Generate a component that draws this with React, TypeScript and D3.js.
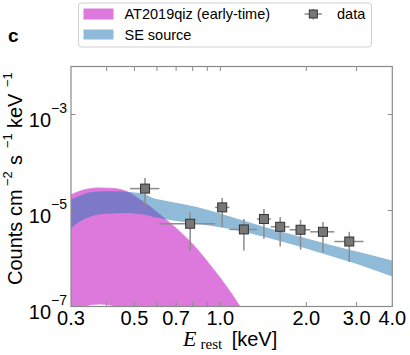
import React from 'react';
import * as d3 from 'd3';

// ---- tick definitions ----
const xTickValues = [0.3, 0.5, 0.7, 1.0, 2.0, 3.0, 4.0];
const xTickLabels = ['0.3', '0.5', '0.7', '1.0', '2.0', '3.0', '4.0'];
const xMinorTicks = [0.4, 0.5, 0.6, 0.7, 0.8, 0.9, 1.0, 2.0, 3.0];
const yTickExponents = [-7, -5, -3];

// ---- AT2019qiz (early-time) model band (log10 counts) ----
const qizEnergy = [0.28, 0.3, 0.336, 0.378, 0.427, 0.471, 0.524, 0.568, 0.615, 0.703, 0.804, 0.92, 1.052, 1.172, 1.25];
const qizUpperLog = [-4.73, -4.67, -4.565, -4.53, -4.544, -4.607, -4.774, -4.921, -5.088, -5.38, -5.715, -6.133, -6.586, -7.004, -7.3];
const qizLowerLog = [-7.35, -7.15, -6.99, -6.948, -6.99, -7.1, -7.3, -7.5, -7.7, -8.0, -8.3, -8.6, -9.0, -9.3, -9.5];

// ---- SE source model band (log10 counts) ----
const seEnergy = [0.3, 0.32, 0.352, 0.4, 0.47, 0.5, 0.545, 0.58, 0.63, 0.828, 1.081, 1.409, 1.854, 2.419, 3.156, 4.0];
const seUpperLog = [-4.775, -4.7, -4.62, -4.6, -4.61, -4.625, -4.66, -4.74, -4.785, -4.927, -5.123, -5.332, -5.527, -5.715, -5.888, -6.043];
const seLowerLog = [-5.366, -5.24, -5.123, -5.07, -5.052, -5.06, -5.09, -5.13, -5.171, -5.276, -5.387, -5.541, -5.736, -5.945, -6.154, -6.377];

// ---- data points ----
const dataE = [0.545, 0.784, 1.015, 1.209, 1.421, 1.62, 1.909, 2.287, 2.828];
const dataELo = [0.4825, 0.612, 0.959, 1.076, 1.343, 1.503, 1.747, 2.064, 2.506];
const dataEHi = [0.612, 0.959, 1.076, 1.343, 1.503, 1.747, 2.064, 2.506, 3.171];
const dataFlux = [2.86e-5, 5.3e-6, 1.16e-5, 4.03e-6, 6.64e-6, 4.58e-6, 3.97e-6, 3.6e-6, 2.26e-6];
const dataFluxLo = [1.13e-5, 1.45e-6, 4.52e-6, 1.47e-6, 2.58e-6, 1.78e-6, 1.52e-6, 1.33e-6, 8.4e-7];
const dataFluxHi = [4.78e-5, 9.12e-6, 1.82e-5, 6.64e-6, 1.07e-5, 7.31e-6, 6.43e-6, 5.75e-6, 3.6e-6];

const W = 410;
const H = 355;
const L = 71;
const R = 392.3;
const T = 66.5;
const B = 306.5;

const SANS = 'Liberation Sans, Arial, Helvetica, sans-serif';
const SERIF = 'Liberation Serif, DejaVu Serif, serif';
const PINK = '#dd78dd';
const BLUE = '#1f77b4';
const AXIS = '#8a8a8a';

export default function App() {
  const x = d3.scaleLog().domain([0.3, 4.0]).range([L, R]);
  const y = d3.scaleLog().domain([1e-7, 1e-2]).range([B, T]);

  const qizArea = d3
    .area<number>()
    .x((_, i) => x(qizEnergy[i]))
    .y0((_, i) => y(Math.pow(10, qizLowerLog[i])))
    .y1((_, i) => y(Math.pow(10, qizUpperLog[i])))
    .curve(d3.curveMonotoneX);
  const seArea = d3
    .area<number>()
    .x((_, i) => x(seEnergy[i]))
    .y0((_, i) => y(Math.pow(10, seLowerLog[i])))
    .y1((_, i) => y(Math.pow(10, seUpperLog[i])))
    .curve(d3.curveMonotoneX);

  const tickLen = 4.5;

  return (
    <svg
      width={W}
      height={H}
      style={{ position: 'absolute', left: 0, top: 0, background: '#fff' }}
      xmlns="http://www.w3.org/2000/svg"
    >
      <defs>
        <clipPath id="plotClip">
          <rect x={L} y={T} width={R - L} height={B - T} />
        </clipPath>
      </defs>

      {/* panel letter */}
      <text x={8} y={42} fontFamily={SANS} fontWeight="bold" fontSize={19} fill="#000">
        c
      </text>

      {/* bands */}
      <g clipPath="url(#plotClip)">
        <path d={qizArea(qizEnergy) || ''} fill={PINK} stroke={PINK} strokeWidth={0.8} />
        <path d={seArea(seEnergy) || ''} fill={BLUE} fillOpacity={0.5} stroke="none" />
      </g>

      {/* data error bars and markers */}
      <g>
        {dataE.map((e, i) => (
          <g key={i}>
            <line x1={x(dataELo[i])} x2={x(dataEHi[i])} y1={y(dataFlux[i])} y2={y(dataFlux[i])} stroke="#8c8c8c" strokeWidth={1.5} />
            <line x1={x(e)} x2={x(e)} y1={y(dataFluxLo[i])} y2={y(dataFluxHi[i])} stroke="#8c8c8c" strokeWidth={1.5} />
            <rect x={x(e) - 4.5} y={y(dataFlux[i]) - 4.5} width={9} height={9} fill="#777" stroke="#333" strokeWidth={1} />
          </g>
        ))}
      </g>

      {/* frame */}
      <rect x={L} y={T} width={R - L} height={B - T} fill="none" stroke={AXIS} strokeWidth={1.2} />

      {/* x ticks */}
      {xMinorTicks.map((v) => (
        <g key={v}>
          <line x1={x(v)} x2={x(v)} y1={B} y2={B - tickLen} stroke={AXIS} strokeWidth={1} />
          <line x1={x(v)} x2={x(v)} y1={T} y2={T + tickLen} stroke={AXIS} strokeWidth={1} />
        </g>
      ))}
      {xTickValues.map((v, i) => (
        <text key={v} x={x(v)} y={325} textAnchor="middle" fontFamily={SANS} fontSize={20} fill="#000">
          {xTickLabels[i]}
        </text>
      ))}

      {/* y ticks */}
      {yTickExponents.map((p) => {
        const yy = y(Math.pow(10, p));
        return (
          <g key={p}>
            {p > -7 && (
              <>
                <line x1={L} x2={L + tickLen} y1={yy} y2={yy} stroke={AXIS} strokeWidth={1} />
                <line x1={R} x2={R - tickLen} y1={yy} y2={yy} stroke={AXIS} strokeWidth={1} />
              </>
            )}
            <text x={67} y={yy + 12} textAnchor="end" fontFamily={SANS} fontSize={20} fill="#000">
              10
              <tspan fontSize={14} dy={-14}>
                {'\u2212' + Math.abs(p)}
              </tspan>
            </text>
          </g>
        );
      })}

      {/* y label */}
      <g transform="translate(21.5,285) rotate(-90)" fontFamily={SANS} fill="#000">
        <text x={0} y={0} fontSize={20}>Counts cm</text>
        <text x={99} y={-10} fontSize={13}>{'\u22122'}</text>
        <text x={120} y={0} fontSize={20}>s</text>
        <text x={137} y={-10} fontSize={13}>{'\u22121'}</text>
        <text x={157} y={0} fontSize={20}>keV</text>
        <text x={198} y={-10} fontSize={13}>{'\u22121'}</text>
      </g>

      {/* x label */}
      <text x={183} y={345.7} fontFamily={SERIF} fontStyle="italic" fontSize={22} fill="#000">E</text>
      <text x={200.5} y={348.5} fontFamily={SERIF} fontSize={15} fill="#000">rest</text>
      <text x={231.7} y={345.7} fontFamily={SANS} fontSize={20} fill="#000">[keV]</text>

      {/* legend */}
      <g>
        <rect x={78.5} y={3} width={293} height={44} rx={3} fill="#fff" stroke="#d0d0d0" strokeWidth={1} />
        <rect x={83.5} y={8.5} width={30} height={11} fill={PINK} />
        <rect x={83.5} y={29.5} width={30} height={10} fill={BLUE} fillOpacity={0.5} />
        <text x={124.5} y={19} fontFamily={SANS} fontSize={14.5} fill="#000">AT2019qiz (early-time)</text>
        <text x={124.5} y={39.5} fontFamily={SANS} fontSize={14.5} fill="#000">SE source</text>
        <line x1={304.5} x2={322} y1={14} y2={14} stroke="#8c8c8c" strokeWidth={1.5} />
        <line x1={313.3} x2={313.3} y1={9} y2={19.5} stroke="#8c8c8c" strokeWidth={1.5} />
        <rect x={309.3} y={10} width={8} height={8} fill="#777" stroke="#333" strokeWidth={1} />
        <text x={337} y={19} fontFamily={SANS} fontSize={14.5} fill="#000">data</text>
      </g>
    </svg>
  );
}
